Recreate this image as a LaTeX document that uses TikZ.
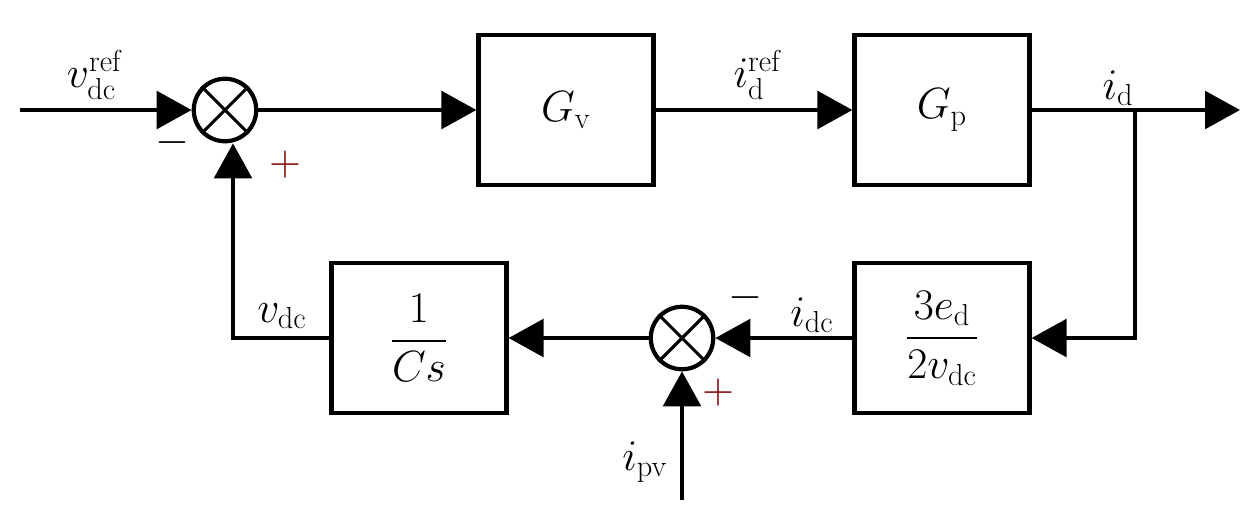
\documentclass[tikz,border=0pt]{standalone}
\usepackage{amsmath}
\usetikzlibrary{arrows.meta}
\begin{document}
\begin{tikzpicture}[x=0.02cm,y=-0.02cm,
  blk/.style={draw,line width=2.4pt,minimum width=3.5cm,minimum height=3cm,inner sep=0pt,font=\fontsize{26}{30}\selectfont},
  sum/.style={draw,circle,line width=2.4pt,minimum size=1.25cm,inner sep=0pt},
  ar/.style={line width=2.4pt,-{Triangle[length=0.7cm,width=0.75cm]}},
  lab/.style={font=\fontsize{26}{30}\selectfont},
  sg/.style={font=\fontsize{30}{34}\selectfont}]
\useasboundingbox (0,0) rectangle (1256,522);
\node[sum] (s1) at (225,110) {};
\draw[line width=1.8pt] (s1.north west)--(s1.south east) (s1.north east)--(s1.south west);
\node[blk] (gv) at (566,110) {$G_{\mathrm{v}}$};
\node[blk] (gp) at (942,110) {$G_{\mathrm{p}}$};
\node[blk] (h) at (942,338) {$\dfrac{3e_{\mathrm{d}}}{2v_{\mathrm{dc}}}$};
\node[sum] (s2) at (682,338) {};
\draw[line width=1.8pt] (s2.north west)--(s2.south east) (s2.north east)--(s2.south west);
\node[blk] (cs) at (419,338) {$\dfrac{1}{Cs}$};
\coordinate (in) at (20,110);
\coordinate (br) at (1135,110);
\coordinate (out) at (1240,110);
\coordinate (brd) at (1135,338);
\coordinate (vl) at (233,338);
\coordinate (ipv) at (682,500);
\draw[ar] (in) -- (s1);
\draw[ar] (s1) -- (gv);
\draw[ar] (gv) -- (gp);
\draw[ar] (gp) -- (out);
\draw[ar] (br) -- (brd) -- (h);
\draw[ar] (h) -- (s2);
\draw[ar] (s2) -- (cs);
\draw[ar] (cs) -- (vl) -- (vl |- s1.south);
\draw[ar] (ipv) -- (s2);
\node[lab] (l1) at (95,75) {$v_{\mathrm{dc}}^{\mathrm{ref}}$};
\node[lab] (l2) at (758,75) {$i_{\mathrm{d}}^{\mathrm{ref}}$};
\node[lab] (l3) at (1118,88) {$i_{\mathrm{d}}$};
\node[lab] (l4) at (282,316) {$v_{\mathrm{dc}}$};
\node[lab] (l5) at (812,315) {$i_{\mathrm{dc}}$};
\node[lab] (l6) at (645,462) {$i_{\mathrm{pv}}$};
\node[sg] (m1) at (172,143) {$-$};
\node[sg,text=red!50!black] (p1) at (285,165) {$+$};
\node[sg] (m2) at (745,298) {$-$};
\node[sg,text=red!50!black] (p2) at (718,393) {$+$};
\end{tikzpicture}
\end{document}
